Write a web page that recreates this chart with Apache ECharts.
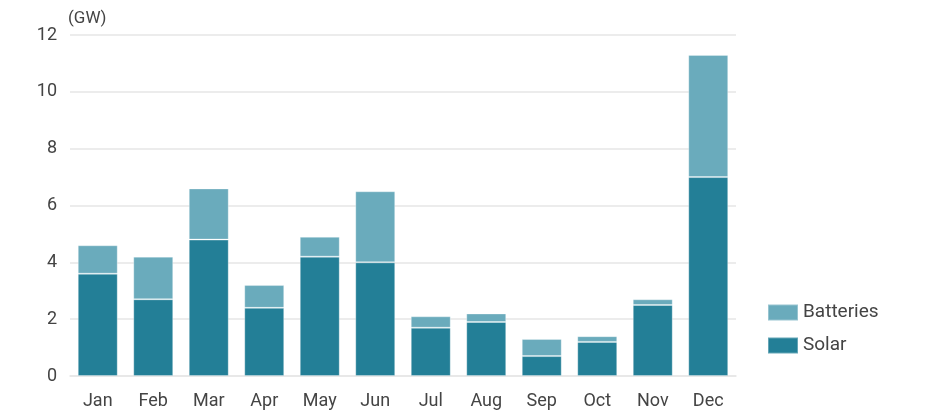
<!DOCTYPE html>
<html>
<head>
<meta charset="utf-8">
<script src="https://cdn.jsdelivr.net/npm/echarts@6/dist/echarts.min.js"></script>
<style>html,body{margin:0;padding:0;background:#fff}#c{width:934px;height:411px}</style>
</head>
<body>
<div id="c"></div>
<script>
const months = ['Jan','Feb','Mar','Apr','May','Jun','Jul','Aug','Sep','Oct','Nov','Dec'];
const solar = [3.6, 2.7, 4.8, 2.4, 4.2, 4.0, 1.7, 1.9, 0.7, 1.2, 2.5, 7.0];
const batteries = [1.0, 1.5, 1.8, 0.8, 0.7, 2.5, 0.4, 0.3, 0.6, 0.2, 0.2, 4.3];
const yTicks = [0, 2, 4, 6, 8, 10, 12];

const font = 'Roboto, "Liberation Sans", sans-serif';
const chart = echarts.init(document.getElementById('c'), null, {renderer: 'canvas'});
chart.setOption({
  animation: false,
  textStyle: {fontFamily: font},
  grid: {left: 70, right: 198, top: 35, bottom: 35, containLabel: false},
  legend: {
    orient: 'vertical',
    left: 767, top: 303, padding: 0,
    itemWidth: 30, itemHeight: 16, itemGap: 14,
    data: ['Batteries', 'Solar'],
    textStyle: {fontSize: 19, color: '#444', fontFamily: font, padding: [0, 0, 0, 0]},
    icon: 'rect'
  },
  xAxis: {
    type: 'category',
    data: months,
    axisLine: {show: true, lineStyle: {color: '#e6e6e6', width: 1.5}},
    axisTick: {show: false},
    axisLabel: {fontSize: 18, color: '#444', margin: 16, fontFamily: font}
  },
  yAxis: {
    type: 'value',
    min: yTicks[0], max: yTicks[yTicks.length - 1], interval: 2,
    name: '(GW)',
    nameLocation: 'end',
    nameGap: 8,
    nameTextStyle: {fontSize: 17, color: '#444', align: 'left', padding: [0, 0, 0, -2], fontFamily: font},
    axisLine: {show: false},
    axisTick: {show: false},
    splitLine: {lineStyle: {color: '#e6e6e6', width: 1.5}},
    axisLabel: {fontSize: 18, color: '#444', margin: 13, fontFamily: font}
  },
  series: [
    {
      name: 'Solar', type: 'bar', stack: 'total', data: solar, barWidth: '72%',
      itemStyle: {color: '#237f97', borderColor: 'rgba(255,255,255,0.3)', borderWidth: 1}
    },
    {
      name: 'Batteries', type: 'bar', stack: 'total', data: batteries, barWidth: '72%',
      itemStyle: {color: '#6aabbc', borderColor: 'rgba(255,255,255,0.3)', borderWidth: 1}
    }
  ]
});
</script>
</body>
</html>
